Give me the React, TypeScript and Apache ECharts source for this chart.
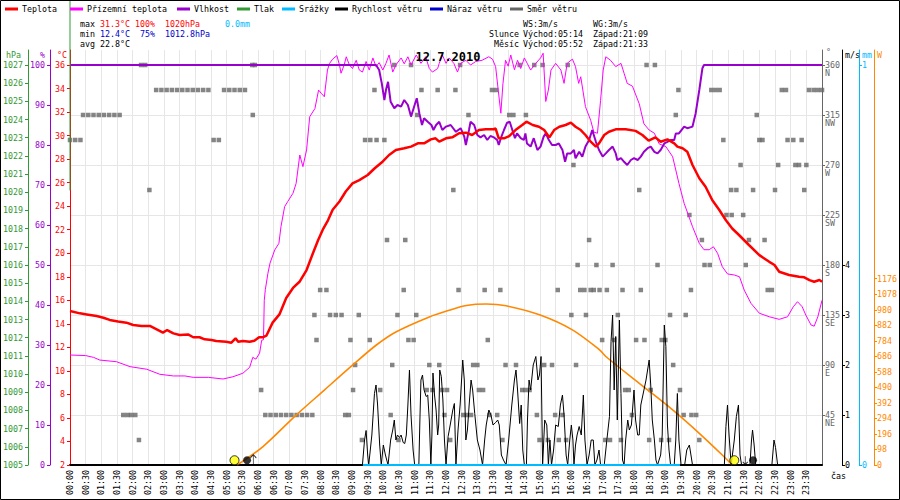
import React, { useEffect, useRef } from "react";
import * as echarts from "echarts";

// ---------------- data (time in minutes since 00:00) ----------------
const temperature: number[][] = [[0,15.09],[19,14.89],[32,14.8],[51,14.66],[64,14.52],[76,14.33],[92,14.19],[108,14.1],[121,13.9],[137,13.82],[153,13.82],[166,13.53],[178,13.25],[186,13.47],[198,13.19],[210,13.05],[226,13.1],[236,12.86],[248,12.86],[258,12.68],[271,12.63],[280,12.54],[299,12.48],[309,12.4],[317,12.77],[322,12.48],[331,12.54],[344,12.48],[353,12.56],[362,12.86],[370,12.86],[376,12.99],[388,14.1],[401,14.8],[414,16.2],[427,17.05],[440,17.6],[453,18.57],[465,19.98],[475,21.1],[484,22.0],[494,22.8],[503,23.7],[516,24.4],[528,25.25],[541,25.94],[554,26.22],[570,26.65],[583,27.2],[599,27.8],[611,28.35],[624,28.78],[640,28.92],[653,29.06],[666,29.34],[678,29.34],[691,29.68],[700,29.77],[707,29.48],[720,29.77],[732,29.85],[745,30.2],[758,30.25],[770,30.05],[783,30.47],[796,30.53],[809,30.53],[815,30.6],[821,29.77],[831,29.77],[841,29.96],[853,30.47],[866,30.9],[874,31.18],[886,30.9],[898,30.75],[908,30.47],[918,29.85],[927,30.47],[937,30.75],[949,30.9],[959,31.1],[968,30.75],[978,30.47],[987,30.05],[997,29.48],[1007,29.06],[1013,29.34],[1023,30.05],[1032,30.33],[1045,30.53],[1064,30.53],[1083,30.4],[1096,30.05],[1108,29.57],[1121,29.85],[1131,29.48],[1144,29.68],[1157,29.34],[1163,29.06],[1173,28.92],[1182,28.63],[1192,27.5],[1205,26.37],[1217,25.65],[1230,24.5],[1243,23.7],[1256,22.8],[1268,22.1],[1281,21.55],[1300,20.7],[1320,19.84],[1339,19.27],[1349,19.0],[1358,18.43],[1377,18.15],[1396,18.0],[1406,17.95],[1416,17.72],[1425,17.58],[1435,17.72],[1440,17.58]];

const groundTemperature: number[][] = [[0,11.35],[30,11.3],[45,11.15],[57,10.92],[89,10.78],[115,10.36],[147,10.14],[172,9.71],[198,9.57],[220,9.57],[236,9.45],[265,9.45],[293,9.31],[312,9.5],[331,9.8],[344,10.3],[350,11.15],[356,11.0],[363,11.5],[367,12.6],[370.5,12.65],[372,16.0],[374,16.9],[379,18.3],[383,19.16],[392,20.27],[400,20.84],[404,22.26],[411,23.96],[417,24.4],[427,25.1],[433,25.94],[440,28.35],[446,27.36],[453,28.78],[459,31.6],[469,32.3],[476,33.87],[481,33.6],[487,33.3],[493,35.57],[497,36.14],[503,36.5],[511,36.8],[516,36.0],[519,35.3],[525,36.0],[529,36.7],[535,36.0],[541,35.7],[548,36.4],[554,35.57],[560,35.4],[567,36.3],[573,35.57],[580,36.6],[586,35.86],[592,36.2],[599,35.57],[605,36.14],[611,36.85],[618,35.4],[624,36.0],[634,36.6],[640,36.1],[647,36.7],[653,36.0],[663,36.85],[672,36.14],[681,36.7],[688,35.7],[694,35.4],[704,35.7],[707,36.14],[713,36.85],[720,36.14],[726,36.6],[735,36.14],[742,35.4],[748,36.14],[758,36.4],[767,36.0],[777,36.3],[789,36.4],[802,36.7],[809,36.5],[815,35.86],[820,33.87],[825,31.9],[829,34.4],[834,36.4],[839,35.9],[844,36.85],[851,35.6],[857,36.4],[863,35.7],[870,36.6],[876,36.1],[882,35.57],[892,36.14],[901,36.6],[906,37.0],[911,32.9],[916,33.87],[921,35.57],[930,36.14],[940,35.57],[946,34.44],[952,36.14],[962,36.5],[968,35.86],[974,34.44],[978,35.0],[987,32.46],[997,31.3],[1003,30.3],[1010,30.2],[1016,33.0],[1021,35.57],[1026,36.7],[1035,36.4],[1045,35.86],[1055,36.14],[1061,35.3],[1067,34.44],[1077,34.2],[1090,32.7],[1099,31.0],[1109,30.47],[1119,30.2],[1128,29.3],[1141,29.06],[1154,28.2],[1166,25.94],[1176,24.24],[1192,22.26],[1205,20.84],[1214,20.3],[1224,20.3],[1232,20.55],[1240,20.0],[1249,18.86],[1259,18.24],[1272,18.15],[1282,18.0],[1291,16.87],[1304,15.74],[1320,14.9],[1339,14.6],[1358,14.38],[1374,14.6],[1385,15.45],[1393,15.88],[1402,15.45],[1409,14.74],[1419,13.9],[1425,13.8],[1432,14.6],[1440,16.0]];

const humidity: number[][] = [[0,100],[586,100],[592,98.75],[597,95.4],[602,91.25],[605,93.75],[609,95.8],[614,90.8],[621,89.2],[627,90],[634,89.6],[640,91.25],[647,90],[653,87.1],[658,89.2],[664,91.7],[669,87.9],[674,85],[678,86.7],[685,85.8],[692,85],[696,83.75],[701,85],[707,85.8],[713,83.75],[720,84.6],[729,85],[739,83.3],[748,84.2],[755,82.1],[758,80],[764,83.75],[767,85.8],[774,85],[780,82.5],[786,81.9],[793,82.5],[799,81.25],[805,82.25],[812,81.9],[818,81.25],[821,80],[825,81.7],[831,83.75],[837,85.6],[842,85.8],[847,83.75],[852,81.7],[856,82.9],[863,81.7],[869,81.25],[872,82.9],[875,80.4],[882,79.6],[888,81.7],[895,78.75],[901,79.6],[907,82.1],[911,82.9],[917,81.25],[923,80],[930,80],[936,80.4],[943,78.75],[948,75.8],[952,77.9],[959,77.9],[965,78.75],[968,76.7],[975,78.3],[981,77.1],[987,79.6],[994,81.25],[1000,83.75],[1007,80.8],[1013,78.75],[1020,77.1],[1026,77.9],[1032,78.75],[1039,79.6],[1045,77.9],[1048,76.25],[1055,76.7],[1061,75.8],[1067,75],[1074,76.25],[1080,76.7],[1087,76.25],[1093,77.1],[1099,78.3],[1106,79.2],[1112,79.6],[1119,78.3],[1125,77.9],[1131,78.75],[1138,80.4],[1144,80.8],[1150,81.25],[1157,81.25],[1160,82.9],[1166,82.9],[1176,84.6],[1182,84.2],[1192,84.6],[1198,87.9],[1205,93.75],[1211,99.2],[1214,100],[1440,100]];

const pressure: number[][] = [[0,1020.1],[0,1031]];

const precipitation: number[][] = [[561,0],[1168,0]];

const windSpeed: number[][] = [[0,0],[560,0],[564,0.5],[567,0.69],[570,0.2],[572,0],[578,0.6],[583,1.43],[586,1.6],[589,1.2],[593,0.4],[596,0],[600,0.4],[604,0.2],[609,0],[614,0.5],[618,0.7],[621,0.9],[624,0.5],[627,0.6],[631,0.55],[634,0.6],[638,0.45],[641,0.43],[644,0.6],[647,1.2],[650,1.9],[653,1.0],[657,0.3],[660,0],[668,0],[670,0.9],[672,1.7],[675,1.8],[678,1.5],[682,1.37],[685,1.4],[688,0.9],[691,0],[693,0.6],[695,1.84],[698,1.4],[701,1.1],[704,0.6],[706,0.8],[708,1.9],[711,1.77],[714,1.3],[717,0.5],[720,0],[724,0.57],[728,0.8],[733,1.1],[736,1.23],[739,0],[743,0.7],[747,1.2],[752,2.1],[755,1.7],[758,0.5],[761,0.7],[765,1.3],[768,1.7],[771,1.5],[775,1.03],[780,0.5],[785,0.3],[790,0],[794,0.5],[797,0.8],[802,1.1],[806,1.0],[810,0.8],[815,0.85],[819,0.9],[822,0.8],[826,0.2],[830,0.1],[835,0],[840,0.5],[846,1.2],[851,1.7],[854,1.9],[857,1.5],[861,0.83],[864,1.2],[867,0.3],[870,0],[874,0],[876,0.9],[879,1.7],[882,1.5],[887,2.0],[892,2.17],[896,1.7],[899,1.8],[902,2.17],[905,0],[909,0.9],[913,0.8],[916,0],[919,0.5],[922,0],[926,0.3],[930,0.8],[935,0.77],[939,1.2],[943,1.4],[946,1.0],[950,0.2],[953,0],[957,0.5],[960,0.8],[963,0.5],[965,0],[968,0.4],[971,0.6],[975,0.77],[979,0.6],[983,1.4],[986,0.5],[990,0],[994,0.2],[998,0.5],[1002,0.5],[1005,0],[1009,0.1],[1013,0.3],[1016,0],[1023,0],[1028,0.5],[1033,0.97],[1036,2.47],[1039,3.0],[1042,1.5],[1045,2.57],[1048,0.9],[1052,2.9],[1055,1.43],[1058,0.1],[1061,0],[1064,0.5],[1068,0.9],[1071,0.7],[1075,0.8],[1080,1.5],[1083,0.9],[1087,0.6],[1090,0.6],[1093,1.2],[1097,1.4],[1103,1.7],[1106,1.9],[1109,2.1],[1112,1.6],[1115,0.9],[1119,0.5],[1122,0.1],[1125,0],[1131,0.2],[1134,0.6],[1138,2.8],[1141,2.37],[1144,0.8],[1147,0.3],[1150,0],[1157,0],[1160,0.5],[1163,1.43],[1166,0.5],[1170,0],[1177,0],[1181,0.3],[1186,0.4],[1189,0.2],[1192,0],[1253,0],[1256,0.77],[1259,1.2],[1262,0.6],[1266,0],[1272,0.5],[1276,0.97],[1280,1.2],[1283,0.2],[1286,0],[1302,0],[1305,0.5],[1307,0.7],[1310,0.4],[1313,0],[1344,0],[1348,0.5],[1351,0.35],[1355,0],[1440,0]];

const windDirection: number[][] = [
  [136,360],[144,360],[349,360],[354,360],[621,360],[653,360],[747,360],[861,360],[889,360],[905,360],[953,360],[1104,360],[1120,360],
  [165,337.5],[175,337.5],[185,337.5],[195,337.5],[205,337.5],[215,337.5],[225,337.5],[235,337.5],[245,337.5],[255,337.5],[265,337.5],[295,337.5],[305,337.5],[315,337.5],[325,337.5],[335,337.5],[583,337.5],[673,337.5],[704,337.5],[738,337.5],[808,337.5],[816,337.5],[1165,337.5],[1228,337.5],[1236,337.5],[1244,337.5],[1363,337.5],[1371,337.5],[1415,337.5],[1424,337.5],[1432,337.5],[1440,337.5],
  [25,315],[35,315],[45,315],[55,315],[65,315],[75,315],[85,315],[95,315],[350,315],[665,315],[763,315],[841,315],[849,315],[873,315],[1160,315],[1315,315],
  [0,292.5],[10,292.5],[20,292.5],[275,292.5],[285,292.5],[565,292.5],[575,292.5],[587,292.5],[602,292.5],[1251,292.5],[1320,292.5],[1326,292.5],[1374,292.5],[1385,292.5],[1401,292.5],
  [964,270],[1284,270],[1356,270],[1389,270],[1396,270],[1410,270],
  [152,247.5],[734,247.5],[1090,247.5],[1266,247.5],[1276,247.5],[1308,247.5],[1350,247.5],[1406,247.5],
  [1186,225],[1257,225],[1267,225],[1289,225],
  [607,202.5],[642,202.5],[994,202.5],[1210,202.5],[1300,202.5],[1330,202.5],
  [972,180],[1008,180],[1039,180],[1125,180],[1215,180],[1225,180],[1294,180],
  [479,157.5],[491,157.5],[639,157.5],[744,157.5],[794,157.5],[824,157.5],[934,157.5],[977,157.5],[985,157.5],[997,157.5],[1003,157.5],[1014,157.5],[1028,157.5],[1058,157.5],[1093,157.5],[1189,157.5],[1336,157.5],[1344,157.5],
  [468,135],[498,135],[509,135],[520,135],[553,135],[627,135],[663,135],[960,135],[988,135],[1049,135],[1149,135],[1179,135],
  [472,112.5],[537,112.5],[574,112.5],[648,112.5],[658,112.5],[800,112.5],[1019,112.5],[1042,112.5],[1084,112.5],[1100,112.5],[1133,112.5],[1140,112.5],
  [546,90],[617,90],[688,90],[707,90],[772,90],[780,90],[834,90],[854,90],[908,90],[923,90],[969,90],[1155,90],
  [366,67.5],[542,67.5],[594,67.5],[683,67.5],[694,67.5],[713,67.5],[722,67.5],[783,67.5],[791,67.5],[866,67.5],[872,67.5],[880,67.5],[1063,67.5],[1070,67.5],[1112,67.5],[1168,67.5],
  [102,45],[110,45],[117,45],[125,45],[374,45],[384,45],[394,45],[404,45],[414,45],[424,45],[434,45],[444,45],[454,45],[464,45],[527,45],[534,45],[614,45],[717,45],[753,45],[760,45],[768,45],[803,45],[818,45],[894,45],[929,45],[943,45],[1076,45],[1175,45],[1190,45],[1199,45],
  [132,22.5],[559,22.5],[629,22.5],[728,22.5],[828,22.5],[899,22.5],[915,22.5],[936,22.5],[950,22.5],[1025,22.5],[1034,22.5],[1055,22.5],[1109,22.5],[1132,22.5],[1147,22.5],[1205,22.5]
];

const solarRadiation: number[][] = [[320,0],[369,115],[433,315],[487,473],[541,630],[586,756],[624,840],[688,935],[726,977],[759,1007],[797,1016],[835,1005],[899,948],[962,853],[1014,727],[1026,685],[1090,516],[1154,348],[1205,200],[1249,63],[1268,0]];

const sunEvents: number[][] = [[315,30],[1272,30]];
const moonEvents: number[][] = [[339,30],[1308,30]];
const moonRise: number[][] = [[351,30]];
const moonSet: number[][] = [[1293,30]];

const tempTicks = [2,4,6,8,10,12,14,16,18,20,22,24,26,28,30,32,34,36];
const humTicks = [0,10,20,30,40,50,60,70,80,90,100];
const pressTicks = [1005,1006,1007,1008,1009,1010,1011,1012,1013,1014,1015,1016,1017,1018,1019,1020,1021,1022,1023,1024,1025,1026,1027];
const dirTicks = [45,90,135,180,225,270,315,360];
const dirNames = ["NE","E","SE","S","SW","W","NW","N"];
const speedTicks = [0,1,2,3,4];
const rainTicks = [0,1];
const solarTicks = [0,98,196,294,392,490,588,686,784,882,980,1078,1176];

const legendNames = ["Teplota","Přízemní teplota","Vlhkost","Tlak","Srážky","Rychlost větru","Náraz větru","Směr větru"];
const legendColors = ["#ff0000","#ff00ff","#9900cc","#339933","#00bbff","#000000","#0000cc","#666666"];

const title = "12.7.2010";

// ---------------- layout / style ----------------
const MONO = "DejaVu Sans Mono";
const FS = 8.3;
const legendX = [5, 70, 177, 237, 282, 335, 430, 510];
const DIR_MAX = 373.5;     // direction axis range matching the 400px tick span
const COMPASS_SHIFT = 7.5; // compass names sit one text line below the degree label

function pad(n: number) { return (n < 10 ? "0" : "") + n; }

function txt(text: string, x: number, y: number, fill: string, extra: any = {}) {
  return {
    type: "text", x, y, silent: true, z: 100,
    style: { text, fill, fontFamily: MONO, fontSize: FS, align: "left", verticalAlign: "middle", ...extra },
  };
}

function yAx(o: any) {
  const { color, ticks, position, offset, min, max, interval, margin, formatter, split, hideLine, labelExtra } = o;
  return {
    type: "value", position, offset, min, max, interval,
    axisLine: { show: !hideLine, onZero: false, lineStyle: { color, width: 1 } },
    axisTick: { show: !hideLine, length: 3, customValues: ticks, lineStyle: { color } },
    axisLabel: {
      show: true, customValues: ticks, color, fontFamily: MONO, fontSize: FS, margin,
      formatter: formatter || ((v: number) => (ticks.indexOf(v) >= 0 ? String(v) : "")),
      align: position === "left" ? "right" : "left",
      ...(labelExtra || {}),
    },
    splitLine: split ? { show: true, lineStyle: { color: "#e6e6e6", width: 1 } } : { show: false },
  };
}

export default function App() {
  const ref = useRef<HTMLDivElement>(null);
  useEffect(() => {
    if (!ref.current) return;
    const chart = echarts.init(ref.current, null, { renderer: "svg" });

    const graphics: any[] = [];
    graphics.push({ type: "rect", silent: true, z: 100, shape: { x: 0.5, y: 0.5, width: 899, height: 499 }, style: { fill: "none", stroke: "#000", lineWidth: 1 } });
    legendNames.forEach((n, i) => {
      const x = legendX[i];
      graphics.push({ type: "line", silent: true, z: 100, shape: { x1: x, y1: 9, x2: x + 13, y2: 9 }, style: { stroke: legendColors[i], lineWidth: 3 } });
      graphics.push(txt(n, x + 17, 9, "#000"));
    });
    // stats block
    graphics.push(txt("max", 80, 24, "#000"));
    graphics.push(txt("31.3°C", 100, 24, "#ff0000"));
    graphics.push(txt("100%", 135, 24, "#ff0000"));
    graphics.push(txt("1020hPa", 165, 24, "#ff0000"));
    graphics.push(txt("0.0mm", 225, 24, "#00bbff"));
    graphics.push(txt("min", 80, 34, "#000"));
    graphics.push(txt("12.4°C", 100, 34, "#0000cc"));
    graphics.push(txt("75%", 140, 34, "#0000cc"));
    graphics.push(txt("1012.8hPa", 165, 34, "#0000cc"));
    graphics.push(txt("avg", 80, 44, "#000"));
    graphics.push(txt("22.8°C", 100, 44, "#000"));
    graphics.push(txt("WS:3m/s", 523, 24, "#000"));
    graphics.push(txt("WG:3m/s", 593, 24, "#000"));
    graphics.push(txt("Slunce", 489, 34, "#000"));
    graphics.push(txt("Východ:05:14", 523, 34, "#000"));
    graphics.push(txt("Západ:21:09", 593, 34, "#000"));
    graphics.push(txt("Měsíc", 494, 44, "#000"));
    graphics.push(txt("Východ:05:52", 523, 44, "#000"));
    graphics.push(txt("Západ:21:33", 593, 44, "#000"));
    graphics.push(txt(title, 448, 57, "#000", { align: "center", fontSize: 12, fontWeight: "bold" }));
    // axis names
    graphics.push(txt("hPa", 21, 55, "#339933", { align: "right" }));
    graphics.push(txt("%", 45, 55, "#9900cc", { align: "right" }));
    graphics.push(txt("°C", 67, 55, "#ff0000", { align: "right" }));
    graphics.push(txt("°", 826, 52, "#666666"));
    graphics.push(txt("m/s", 845, 55, "#000"));
    graphics.push(txt("mm", 862, 55, "#00bbff"));
    graphics.push(txt("W", 877, 55, "#ff8800"));
    graphics.push(txt("čas", 831, 476, "#000"));

    const arrowUp = "path://M4,0 L4,14 M1,4 L4,0 L7,4";
    const arrowDown = "path://M4,14 L4,0 M1,10 L4,14 L7,10";

    const option: any = {
      animation: false,
      backgroundColor: "#ffffff",
      grid: { left: 70, right: 77, top: 50, bottom: 35, containLabel: false },
      xAxis: {
        type: "value", min: 0, max: 1440, interval: 30,
        axisLine: { show: true, onZero: false, lineStyle: { color: "#000", width: 2 } },
        axisTick: { show: false },
        axisLabel: {
          rotate: 90, color: "#000", fontFamily: MONO, fontSize: FS, margin: 5,
          formatter: (v: number) => (v >= 1440 ? "" : pad(Math.floor(v / 60)) + ":" + pad(v % 60)),
        },
        splitLine: { show: true, lineStyle: { color: "#e6e6e6", width: 1 } },
      },
      yAxis: [
        yAx({ color: "#ff0000", ticks: tempTicks, position: "left", offset: 0, min: 2, max: 37.275, interval: 2, margin: 5 }),
        yAx({ color: "#9900cc", ticks: humTicks, position: "left", offset: 20, min: 0, max: 103.75, interval: 10, margin: 5 }),
        yAx({ color: "#339933", ticks: pressTicks, position: "left", offset: 42, min: 1005, max: 1027.825, interval: 1, margin: 5 }),
        yAx({ color: "#666666", ticks: dirTicks, position: "right", offset: 0, min: 0, max: DIR_MAX, interval: 45, margin: 3, split: true, labelExtra: { lineHeight: 8 } }),
        yAx({ color: "#000000", ticks: speedTicks, position: "right", offset: 20, min: 0, max: 8.3, interval: 1, margin: 3, labelExtra: { lineHeight: 8 } }),
        yAx({ color: "#00bbff", ticks: rainTicks, position: "right", offset: 37, min: 0, max: 1.0375, interval: 1, margin: 3 }),
        yAx({ color: "#ff8800", ticks: solarTicks, position: "right", offset: 52, min: 0, max: 2620, interval: 98, margin: 3 }),
        yAx({
          color: "#666666", ticks: dirTicks, position: "right", offset: 0,
          min: COMPASS_SHIFT, max: DIR_MAX + COMPASS_SHIFT, margin: 3, hideLine: true,
          formatter: (v: number) => { const i = dirTicks.indexOf(v); return i >= 0 ? dirNames[i] : ""; },
          labelExtra: { lineHeight: 8 },
        }),
      ],
      series: [
        { name: "Směr větru", type: "scatter", yAxisIndex: 3, data: windDirection, symbol: "rect", symbolSize: [4.5, 4.5], itemStyle: { color: "#666666" }, z: 3, silent: true },
        { name: "Sluneční záření", type: "line", yAxisIndex: 6, data: solarRadiation, smooth: 0.3, showSymbol: false, lineStyle: { color: "#ff8800", width: 1.6 }, z: 4, silent: true },
        { name: "Přízemní teplota", type: "line", yAxisIndex: 0, data: groundTemperature, showSymbol: false, lineStyle: { color: "#ff00ff", width: 1 }, z: 5, silent: true },
        { name: "Vlhkost", type: "line", yAxisIndex: 1, data: humidity, showSymbol: false, lineStyle: { color: "#9900cc", width: 2 }, z: 5, silent: true },
        { name: "Tlak", type: "line", yAxisIndex: 2, data: pressure, showSymbol: false, clip: false, lineStyle: { color: "#339933", width: 1 }, z: 5, silent: true },
        { name: "Teplota", type: "line", yAxisIndex: 0, data: temperature, showSymbol: false, lineStyle: { color: "#ff0000", width: 2.5 }, z: 6, silent: true },
        { name: "Rychlost větru", type: "line", yAxisIndex: 4, data: windSpeed, showSymbol: false, lineStyle: { color: "#000000", width: 1 }, z: 7, silent: true },
        { name: "Náraz větru", type: "line", yAxisIndex: 4, data: [], showSymbol: false, lineStyle: { color: "#0000cc", width: 1 }, z: 7, silent: true },
        { name: "Srážky", type: "line", yAxisIndex: 5, data: precipitation, showSymbol: false, lineStyle: { color: "#00bbff", width: 2 }, z: 8, silent: true },
        { name: "Slunce", type: "scatter", yAxisIndex: 6, data: sunEvents, symbolSize: 9, itemStyle: { color: "#ffff00", borderColor: "#000", borderWidth: 1 }, z: 9, silent: true },
        { name: "Měsíc", type: "scatter", yAxisIndex: 6, data: moonEvents, symbolSize: 8, itemStyle: { color: "#000000" }, z: 9, silent: true },
        { name: "Východ měsíce", type: "scatter", yAxisIndex: 6, data: moonRise, symbol: arrowUp, symbolSize: [6, 11], itemStyle: { color: "none", borderColor: "#000", borderWidth: 1 }, z: 9, silent: true },
        { name: "Západ měsíce", type: "scatter", yAxisIndex: 6, data: moonSet, symbol: arrowDown, symbolSize: [5, 8], itemStyle: { color: "none", borderColor: "#000", borderWidth: 1 }, z: 9, silent: true },
      ],
      graphic: graphics,
    };
    chart.setOption(option);
    return () => chart.dispose();
  }, []);
  return <div ref={ref} style={{ position: "absolute", left: 0, top: 0, width: 900, height: 500, background: "#fff" }} />;
}
